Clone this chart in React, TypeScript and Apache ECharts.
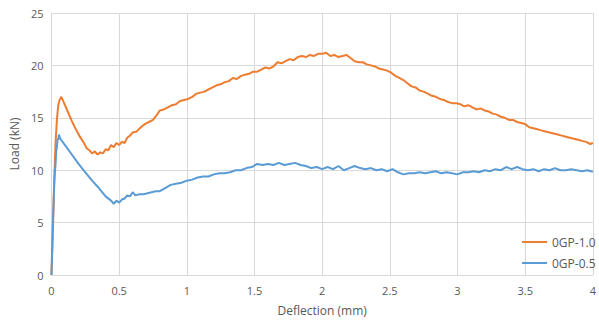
import React, { useEffect, useRef } from "react";
import * as echarts from "echarts";

const seriesNames = ["0GP-1.0", "0GP-0.5"];

const orangeX = [0, 0.01, 0.02, 0.03, 0.04, 0.05, 0.06, 0.073, 0.09, 0.12, 0.15, 0.18, 0.21, 0.24, 0.26, 0.28, 0.3, 0.32, 0.34, 0.36, 0.38, 0.4, 0.42, 0.44, 0.46, 0.48, 0.5, 0.52, 0.54, 0.56, 0.58, 0.6, 0.63, 0.66, 0.69, 0.72, 0.75, 0.78, 0.8, 0.83, 0.86, 0.89, 0.92, 0.95, 0.98, 1.01, 1.04, 1.07, 1.1, 1.13, 1.16, 1.19, 1.22, 1.25, 1.28, 1.31, 1.34, 1.37, 1.4, 1.43, 1.46, 1.49, 1.52, 1.55, 1.58, 1.61, 1.64, 1.67, 1.7, 1.73, 1.76, 1.79, 1.82, 1.85, 1.88, 1.91, 1.94, 1.97, 2.0, 2.03, 2.06, 2.09, 2.12, 2.15, 2.18, 2.21, 2.24, 2.27, 2.3, 2.33, 2.36, 2.39, 2.42, 2.45, 2.48, 2.51, 2.54, 2.57, 2.6, 2.63, 2.66, 2.69, 2.72, 2.75, 2.78, 2.81, 2.84, 2.87, 2.9, 2.93, 2.96, 2.99, 3.02, 3.05, 3.08, 3.11, 3.14, 3.17, 3.2, 3.23, 3.26, 3.29, 3.32, 3.35, 3.38, 3.41, 3.44, 3.47, 3.5, 3.53, 3.56, 3.59, 3.62, 3.65, 3.68, 3.71, 3.74, 3.77, 3.8, 3.83, 3.86, 3.89, 3.92, 3.95, 3.98, 4.0];
const orangeY = [0, 4, 9, 12.6, 14.8, 16.2, 16.7, 17.0, 16.5, 15.6, 14.7, 13.9, 13.2, 12.6, 12.1, 11.9, 11.6, 11.8, 11.5, 11.7, 11.6, 12.0, 11.9, 12.4, 12.2, 12.6, 12.4, 12.7, 12.6, 13.1, 13.3, 13.6, 13.7, 14.1, 14.4, 14.6, 14.8, 15.3, 15.7, 15.8, 16.0, 16.2, 16.3, 16.6, 16.7, 16.8, 17.0, 17.3, 17.4, 17.5, 17.7, 17.9, 18.1, 18.2, 18.4, 18.5, 18.8, 18.7, 19.0, 19.1, 19.2, 19.4, 19.4, 19.6, 19.8, 19.7, 19.9, 20.3, 20.2, 20.4, 20.6, 20.5, 20.8, 20.9, 20.8, 21.0, 20.9, 21.1, 21.1, 21.2, 20.9, 21.0, 20.8, 20.9, 21.0, 20.7, 20.4, 20.3, 20.3, 20.1, 20.0, 19.9, 19.7, 19.6, 19.5, 19.3, 19.0, 18.8, 18.6, 18.3, 18.0, 17.9, 17.6, 17.5, 17.3, 17.1, 17.0, 16.8, 16.7, 16.5, 16.4, 16.4, 16.3, 16.1, 16.2, 16.0, 15.8, 15.9, 15.7, 15.6, 15.4, 15.3, 15.1, 15.0, 14.8, 14.8, 14.6, 14.5, 14.4, 14.1, 14.0, 13.9, 13.8, 13.7, 13.6, 13.5, 13.4, 13.3, 13.2, 13.1, 13.0, 12.9, 12.8, 12.7, 12.5, 12.6];

const blueX = [0, 0.005, 0.01, 0.015, 0.02, 0.025, 0.03, 0.035, 0.04, 0.045, 0.05, 0.055, 0.065, 0.1, 0.15, 0.2, 0.25, 0.3, 0.35, 0.4, 0.44, 0.46, 0.48, 0.5, 0.52, 0.54, 0.56, 0.58, 0.6, 0.62, 0.65, 0.68, 0.71, 0.74, 0.77, 0.8, 0.84, 0.88, 0.92, 0.96, 1.0, 1.04, 1.08, 1.12, 1.16, 1.2, 1.24, 1.28, 1.32, 1.36, 1.4, 1.44, 1.48, 1.52, 1.56, 1.6, 1.64, 1.68, 1.72, 1.76, 1.8, 1.84, 1.88, 1.92, 1.96, 2.0, 2.04, 2.08, 2.12, 2.16, 2.2, 2.24, 2.28, 2.32, 2.36, 2.4, 2.44, 2.48, 2.52, 2.56, 2.6, 2.64, 2.68, 2.72, 2.76, 2.8, 2.84, 2.88, 2.92, 2.96, 3.0, 3.04, 3.08, 3.12, 3.16, 3.2, 3.24, 3.28, 3.32, 3.36, 3.4, 3.44, 3.48, 3.52, 3.56, 3.6, 3.64, 3.68, 3.72, 3.76, 3.8, 3.84, 3.88, 3.92, 3.96, 4.0];
const blueY = [0, 2.5, 5, 6.5, 8.5, 9.8, 10.5, 11.8, 12.2, 13.0, 12.9, 13.4, 13.0, 12.4, 11.5, 10.6, 9.8, 9.0, 8.3, 7.5, 7.1, 6.8, 7.1, 6.9, 7.2, 7.3, 7.6, 7.5, 7.9, 7.6, 7.7, 7.7, 7.8, 7.9, 8.0, 8.0, 8.3, 8.6, 8.7, 8.8, 9.0, 9.1, 9.3, 9.4, 9.4, 9.6, 9.7, 9.7, 9.8, 10.0, 10.0, 10.2, 10.3, 10.6, 10.5, 10.6, 10.5, 10.7, 10.5, 10.6, 10.7, 10.5, 10.4, 10.2, 10.3, 10.1, 10.3, 10.1, 10.4, 10.0, 10.2, 10.4, 10.2, 10.1, 10.2, 10.0, 10.1, 9.9, 10.1, 9.8, 9.6, 9.7, 9.7, 9.8, 9.7, 9.8, 9.9, 9.7, 9.8, 9.7, 9.6, 9.8, 9.8, 9.9, 9.8, 10.0, 9.9, 10.1, 10.0, 10.3, 10.1, 10.3, 10.1, 10.0, 10.1, 9.9, 10.1, 10.0, 10.2, 10.0, 10.0, 10.1, 10.0, 9.9, 10.0, 9.85];

const xTickLabels = ["0", "0.5", "1", "1.5", "2", "2.5", "3", "3.5", "4"];

const FONT = "'Open Sans', 'Noto Sans', sans-serif";
const TEXT = "#595959";
const GRID = "#D9D9D9";

export default function App() {
  const ref = useRef<HTMLDivElement>(null);
  useEffect(() => {
    if (!ref.current) return;
    const chart = echarts.init(ref.current, undefined, { renderer: "svg" });
    const orange = orangeX.map((x, i) => [x, orangeY[i]]);
    const blue = blueX.map((x, i) => [x, blueY[i]]);
    chart.setOption({
      animation: false,
      textStyle: { fontFamily: FONT },
      grid: { left: 51, right: 2, top: 13, bottom: 47 },
      legend: {
        data: seriesNames,
        orient: "vertical",
        left: 517,
        top: 231,
        itemWidth: 25,
        itemHeight: 2,
        itemGap: 9,
        icon: "rect",
        textStyle: { color: TEXT, fontSize: 12, fontFamily: FONT },
      },
      xAxis: {
        type: "value",
        min: 0,
        max: 4,
        interval: 0.5,
        name: "Deflection (mm)",
        nameLocation: "middle",
        nameGap: 29,
        nameTextStyle: { color: TEXT, fontSize: 12, fontFamily: FONT },
        axisLine: { show: true, lineStyle: { color: GRID } },
        axisTick: { show: false },
        axisLabel: {
          color: TEXT,
          fontSize: 11,
          margin: 10,
          formatter: (v: number) => xTickLabels[Math.round(v / 0.5)] ?? String(v),
        },
        splitLine: { show: true, lineStyle: { color: GRID } },
      },
      yAxis: {
        type: "value",
        min: 0,
        max: 25,
        interval: 5,
        name: "Load (kN)",
        nameLocation: "middle",
        nameGap: 31,
        nameTextStyle: { color: TEXT, fontSize: 12, fontFamily: FONT },
        axisLine: { show: true, lineStyle: { color: GRID } },
        axisTick: { show: false },
        axisLabel: { color: TEXT, fontSize: 11, margin: 8 },
        splitLine: { show: true, lineStyle: { color: GRID } },
      },
      series: [
        {
          name: seriesNames[0],
          type: "line",
          data: orange,
          showSymbol: false,
          symbol: "none",
          lineStyle: { color: "#ED7D31", width: 2 },
          itemStyle: { color: "#ED7D31" },
        },
        {
          name: seriesNames[1],
          type: "line",
          data: blue,
          showSymbol: false,
          symbol: "none",
          lineStyle: { color: "#5B9BD5", width: 2 },
          itemStyle: { color: "#5B9BD5" },
        },
      ],
    });
    return () => chart.dispose();
  }, []);
  return <div ref={ref} style={{ width: 599, height: 322, position: "absolute", left: 0, top: 0 }} />;
}
